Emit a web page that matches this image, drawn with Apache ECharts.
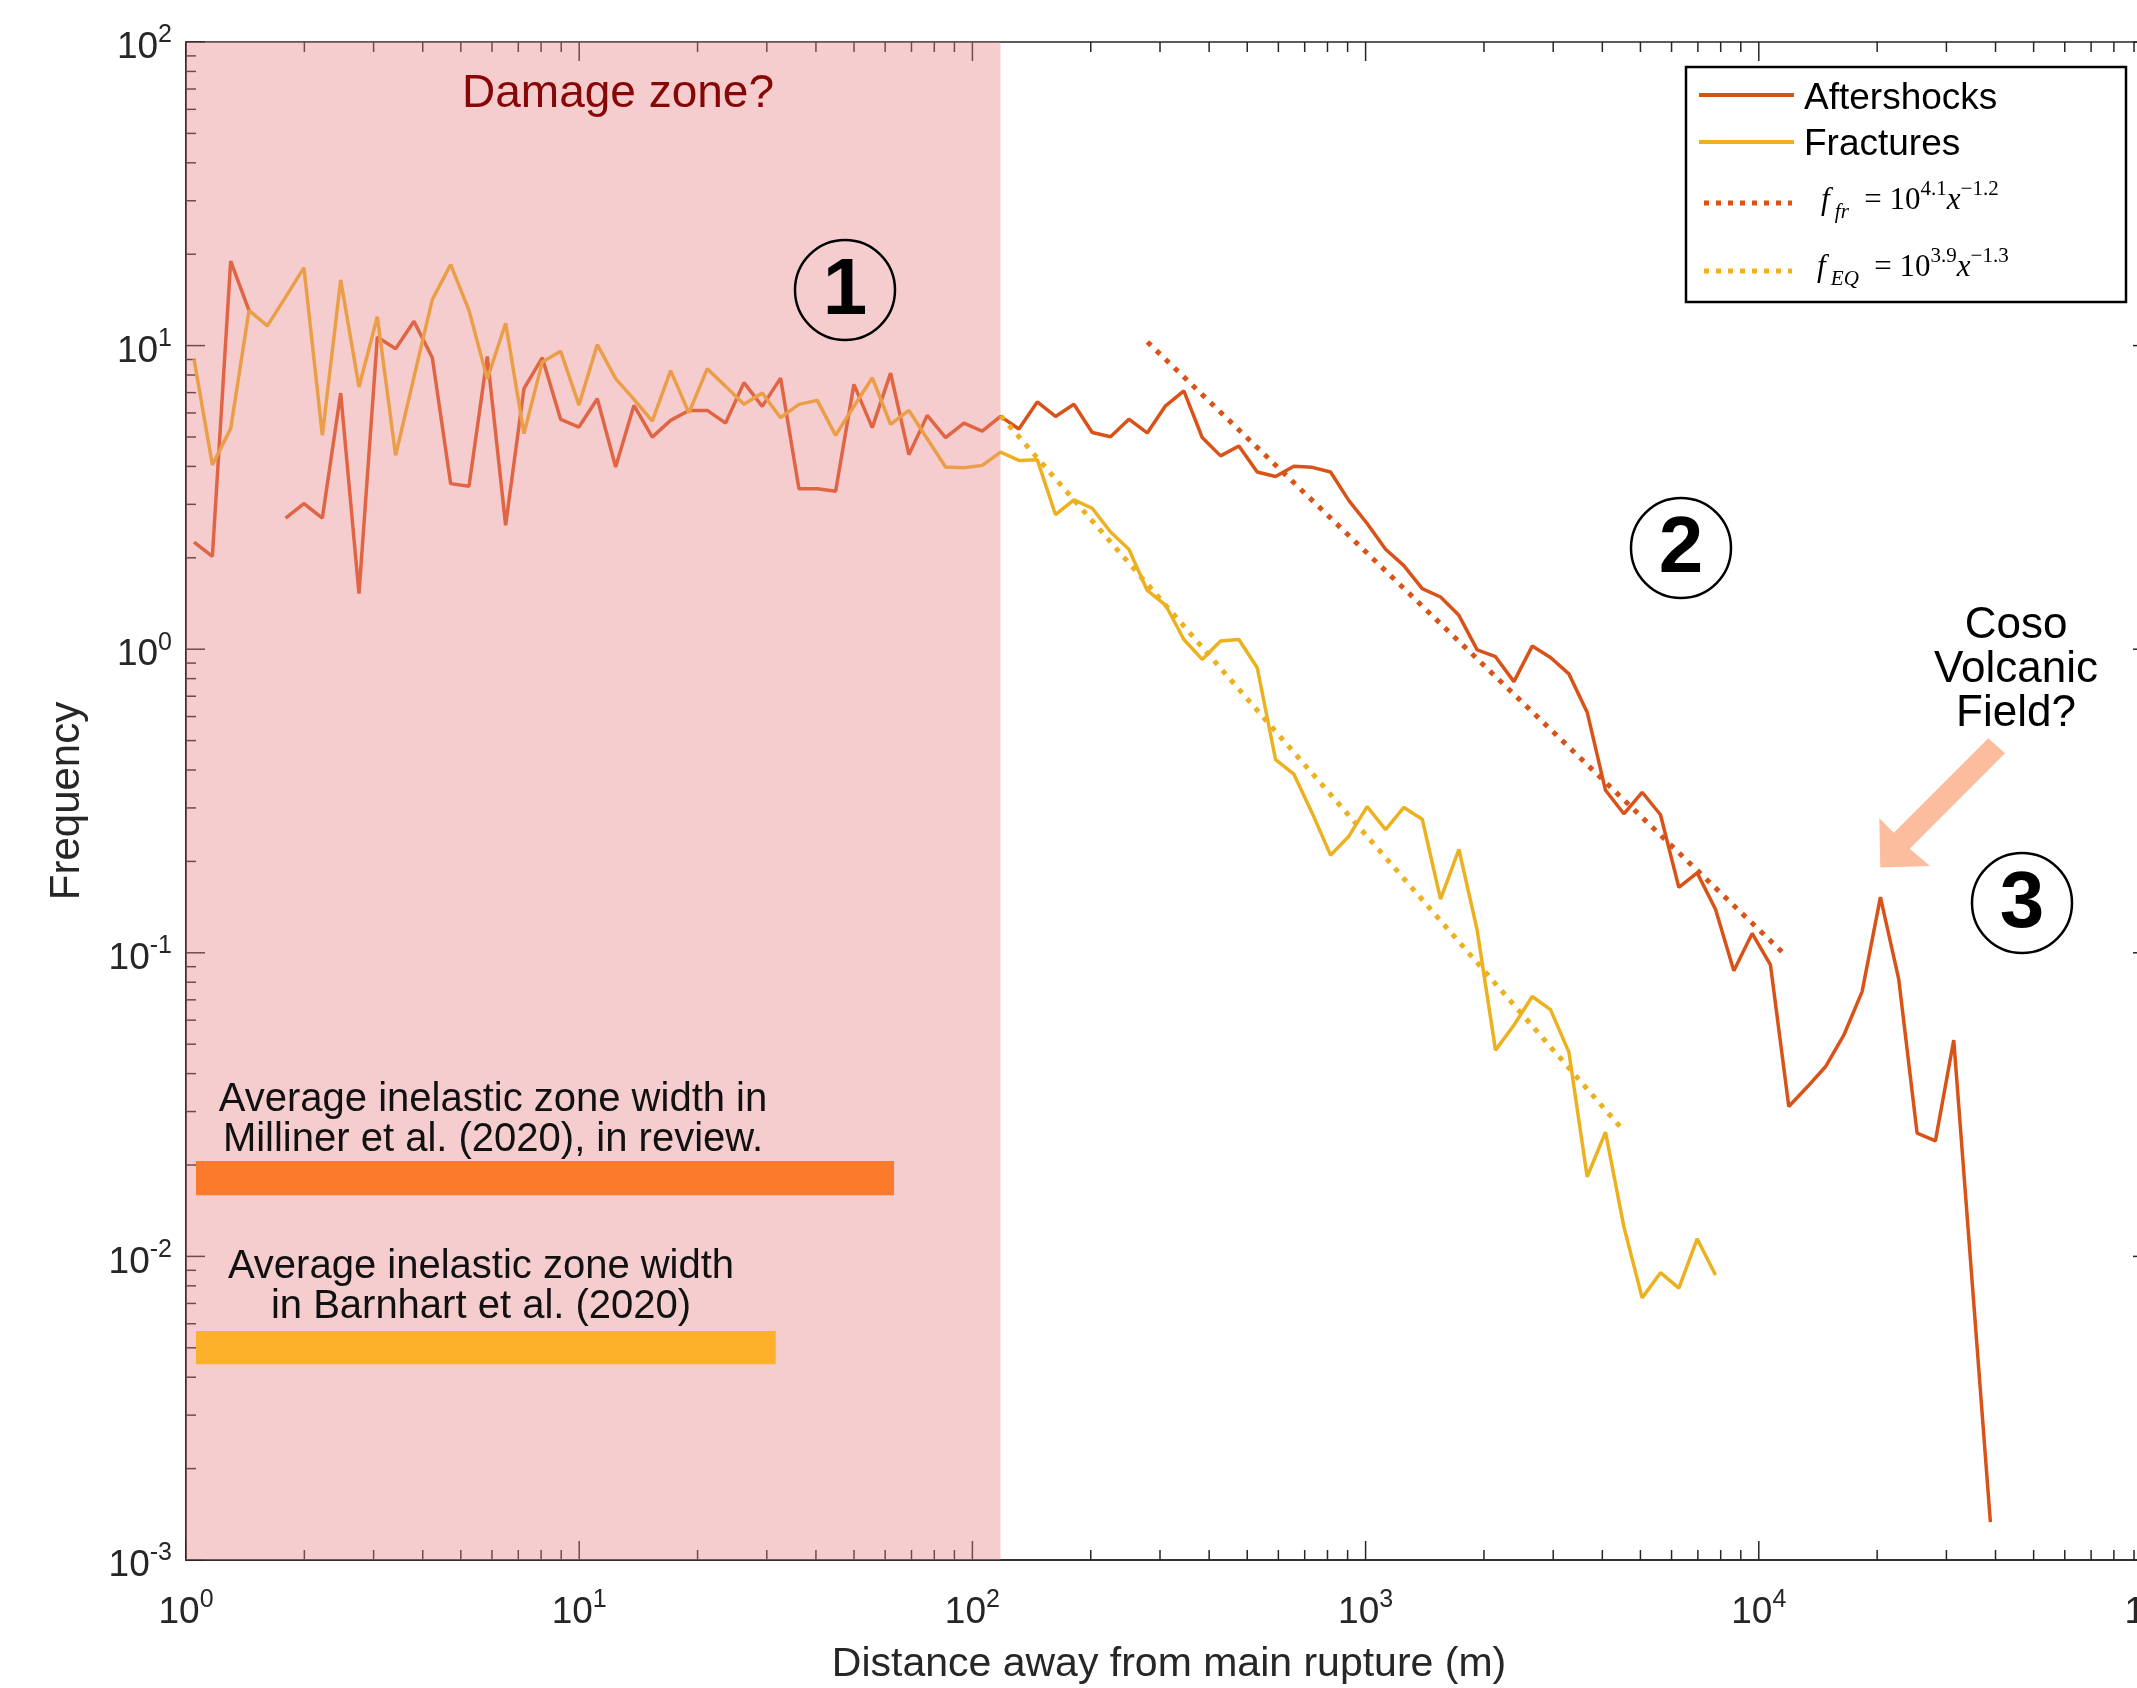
<!DOCTYPE html>
<html>
<head>
<meta charset="utf-8">
<title>Aftershocks and fractures vs. distance from main rupture</title>
<script src="https://cdn.jsdelivr.net/npm/echarts@6/dist/echarts.min.js"></script>
<style>
  html, body { margin: 0; padding: 0; background: #ffffff; }
  #chart { width: 2137px; height: 1688px; }
</style>
</head>
<body>
<div id="chart"></div>
<script>
// Distance bins (m), log-spaced bin centres shared by both histograms
const distance = [1.048, 1.167, 1.299, 1.446, 1.610, 1.792, 1.995, 2.222, 2.474, 2.754,
  3.066, 3.413, 3.800, 4.231, 4.710, 5.244, 5.838, 6.500, 7.236, 8.056,
  8.969, 9.986, 11.12, 12.38, 13.78, 15.34, 17.08, 19.01, 21.17, 23.57,
  26.24, 29.21, 32.52, 36.21, 40.31, 44.88, 49.96, 55.63, 61.93, 68.95,
  76.76, 85.46, 95.15, 105.9, 117.9, 131.3, 146.2, 162.7, 181.2, 201.7,
  224.6, 250.0, 278.4, 309.9, 345.0, 384.1, 427.7, 476.1, 530.1, 590.2,
  657.1, 731.6, 814.5, 906.8, 1009, 1124, 1251, 1393, 1551, 1727,
  1922, 2140, 2383, 2653, 2953, 3288, 3660, 4075, 4537, 5051,
  5623, 6261, 6970, 7760, 8639, 9617, 10707, 11920, 13271, 14774,
  16449, 18312, 20387, 22697, 25268, 28131, 31318, 34866, 38816];

// Aftershock frequency per bin (null = empty bin)
const aftershocks = [2.254, 2.022, 18.98, 13.06, null, 2.704, 3.016, 2.704, 6.977, 1.524,
  10.67, 9.768, 12.02, 9.125, 3.511, 3.440, 9.213, 2.559, 7.214, 9.125,
  5.715, 5.391, 6.685, 3.981, 6.355, 4.996, 5.672, 6.116, 6.116, 5.556,
  7.551, 6.307, 7.816, 3.379, 3.379, 3.311, 7.452, 5.366, 8.119, 4.373,
  5.891, 4.973, 5.556, 5.231, 5.846, 5.310, 6.521, 5.842, 6.408, 5.171,
  5.007, 5.724, 5.155, 6.336, 7.094, 4.981, 4.333, 4.671, 3.836, 3.704,
  4.008, 3.972, 3.836, 3.085, 2.594, 2.135, 1.885, 1.583, 1.486, 1.293,
  0.9954, 0.9447, 0.7822, 1.024, 0.9391, 0.8293, 0.6204, 0.3430, 0.2870, 0.3379,
  0.2849, 0.1642, 0.1833, 0.1392, 0.0873, 0.1158, 0.0912, 0.03118, 0.03612, 0.04213,
  0.05352, 0.0745, 0.1526, 0.08169, 0.02547, 0.02402, 0.0516, 0.008303, 0.001332];

// Fracture frequency per bin (first 84 bins)
const fractures = [9.020, 4.048, 5.326, 13.06, 11.61, 14.44, 18.06, 5.061, 16.46, 7.302,
  12.45, 4.350, 7.876, 14.19, 18.48, 13.06, 7.762, 11.85, 5.130, 8.825,
  9.585, 6.370, 10.08, 7.780, 6.650, 5.638, 8.270, 6.002, 8.395, 7.340,
  6.404, 6.977, 5.789, 6.404, 6.600, 5.061, 6.307, 7.840, 5.503, 6.116,
  4.936, 3.981, 3.963, 4.032, 4.460, 4.185, 4.210, 2.773, 3.103, 2.912,
  2.432, 2.135, 1.561, 1.398, 1.076, 0.9256, 1.064, 1.076, 0.8687, 0.4331,
  0.3877, 0.2884, 0.2097, 0.2422, 0.3030, 0.2545, 0.3012, 0.2754, 0.1502, 0.2189,
  0.1187, 0.0478, 0.0577, 0.0718, 0.0650, 0.0471, 0.0183, 0.02566, 0.01253, 0.007301,
  0.008839, 0.007862, 0.01143, 0.00868];

// Power-law fits, drawn between their end points [distance, frequency]
const fitFr = [[278.7, 10.28], [11756, 0.0975]];
const fitEq = [[118, 5.87], [4539, 0.02586]];

// Shaded damage zone extent (m)
const damageZone = [1, 117.9];

// Average inelastic zone width bars: [x start, y low, x end, y high]
const millinerBar = [1.06, 0.0159, 63.2, 0.0206];
const barnhartBar = [1.06, 0.00441, 31.6, 0.00568];

// Axis decades
const xDecades = [1, 10, 100, 1000, 10000, 100000];
const yDecades = [0.001, 0.01, 0.1, 1, 10, 100];

const X_MIN = 1, X_MAX = 100000, Y_MIN = 0.001, Y_MAX = 100;
const AFTER = '#D95319', FRACT = '#EDB120', AXIS = '#262626';
const SANS = '"Liberation Sans", Arial, Helvetica, sans-serif';
const SERIF = '"Liberation Serif", "Times New Roman", serif';

const pairs = (xs, ys) => ys.map((y, i) => [xs[i], y === null ? '-' : y]);

function minorTicks(decades) {
  const out = [];
  for (let d = 0; d < decades.length - 1; d++) {
    for (let k = 2; k <= 9; k++) out.push(decades[d] * k);
  }
  return out;
}
const xTickData = xDecades.map(v => [v, 1, 19]).concat(minorTicks(xDecades).map(v => [v, 1, 10]));
const yTickData = yDecades.map(v => [1, v, 19]).concat(minorTicks(yDecades).map(v => [1, v, 10]));

const expLabel = v => '{b|10}{s|' + Math.round(Math.log10(v)) + '}';
const labelRich = {
  b: { fontSize: 37, lineHeight: 50, fontFamily: SANS, color: AXIS },
  s: { fontSize: 25, lineHeight: 25, verticalAlign: 'top', fontFamily: SANS, color: AXIS }
};

const chart = echarts.init(document.getElementById('chart'), null, { renderer: 'canvas' });

const option = {
  backgroundColor: '#ffffff',
  animation: false,
  grid: {
    left: 186, top: 42, width: 1966, height: 1518,
    show: true, borderColor: AXIS, borderWidth: 1.5, backgroundColor: 'transparent',
    containLabel: false, outerBoundsMode: 'none'
  },
  xAxis: {
    type: 'log', logBase: 10, min: X_MIN, max: X_MAX,
    name: 'Distance away from main rupture (m)',
    nameLocation: 'middle', nameGap: 84,
    nameTextStyle: { fontSize: 41, fontFamily: SANS, color: AXIS },
    axisLine: { show: true, onZero: false, lineStyle: { color: AXIS, width: 1.5 } },
    axisTick: { show: false }, splitLine: { show: false }, minorTick: { show: false },
    axisLabel: { margin: 28, formatter: expLabel, rich: labelRich, hideOverlap: false }
  },
  yAxis: {
    type: 'log', logBase: 10, min: Y_MIN, max: Y_MAX,
    name: 'Frequency', nameLocation: 'middle', nameGap: 98, nameRotate: 90,
    nameTextStyle: { fontSize: 42, fontFamily: SANS, color: AXIS },
    axisLine: { show: true, onZero: false, lineStyle: { color: AXIS, width: 1.5 } },
    axisTick: { show: false }, splitLine: { show: false }, minorTick: { show: false },
    axisLabel: { margin: 14, padding: [12, 0, 0, 0], formatter: expLabel, rich: labelRich, hideOverlap: false }
  },
  series: [
    {
      name: 'Aftershocks', type: 'line', z: 2, showSymbol: false, connectNulls: false,
      data: pairs(distance, aftershocks),
      lineStyle: { color: AFTER, width: 3.5 }, itemStyle: { color: AFTER }
    },
    {
      name: 'Fractures', type: 'line', z: 2, showSymbol: false,
      data: pairs(distance, fractures),
      lineStyle: { color: FRACT, width: 3.5 }, itemStyle: { color: FRACT }
    },
    {
      name: 'f_fr fit', type: 'line', z: 3, showSymbol: false, data: fitFr,
      lineStyle: { color: AFTER, width: 5, type: [5, 7.5], cap: 'butt' }
    },
    {
      name: 'f_EQ fit', type: 'line', z: 3, showSymbol: false, data: fitEq,
      lineStyle: { color: FRACT, width: 5, type: [5, 7.5], cap: 'butt' }
    },
    {
      // tick marks on bottom and top edges
      name: 'x ticks', type: 'custom', z: 1, silent: true,
      data: xTickData, encode: { x: 0, y: 1 },
      renderItem: (params, api) => {
        const v = api.value(0), len = api.value(2);
        const b = api.coord([v, Y_MIN]), t = api.coord([v, Y_MAX]);
        const st = { stroke: AXIS, lineWidth: 1.5 };
        return { type: 'group', children: [
          { type: 'line', shape: { x1: b[0], y1: b[1], x2: b[0], y2: b[1] - len }, style: st },
          { type: 'line', shape: { x1: t[0], y1: t[1], x2: t[0], y2: t[1] + len }, style: st }
        ] };
      }
    },
    {
      // tick marks on left and right edges
      name: 'y ticks', type: 'custom', z: 1, silent: true,
      data: yTickData, encode: { x: 0, y: 1 },
      renderItem: (params, api) => {
        const v = api.value(1), len = api.value(2);
        const l = api.coord([X_MIN, v]), r = api.coord([X_MAX, v]);
        const st = { stroke: AXIS, lineWidth: 1.5 };
        return { type: 'group', children: [
          { type: 'line', shape: { x1: l[0], y1: l[1], x2: l[0] + len, y2: l[1] }, style: st },
          { type: 'line', shape: { x1: r[0], y1: r[1], x2: r[0] - len, y2: r[1] }, style: st }
        ] };
      }
    },
    {
      // translucent shading of the near-fault damage zone
      name: 'Damage zone', type: 'custom', z: 5, silent: true,
      data: [[damageZone[0], Y_MIN, damageZone[1], Y_MAX]],
      encode: { x: [0, 2], y: [1, 3] },
      renderItem: (params, api) => {
        const a = api.coord([api.value(0), api.value(3)]);
        const b = api.coord([api.value(2), api.value(1)]);
        return { type: 'rect', shape: { x: a[0], y: a[1], width: b[0] - a[0], height: b[1] - a[1] },
          style: { fill: 'rgba(232,130,132,0.4)' } };
      }
    },
    {
      name: 'Inelastic zone widths', type: 'custom', z: 7, silent: true,
      data: [millinerBar, barnhartBar],
      encode: { x: [0, 2], y: [1, 3] },
      renderItem: (params, api) => {
        const colors = ['#FC7A2B', '#FDB12A'];
        const a = api.coord([api.value(0), api.value(3)]);
        const b = api.coord([api.value(2), api.value(1)]);
        return { type: 'rect', shape: { x: a[0], y: a[1], width: b[0] - a[0], height: b[1] - a[1] },
          style: { fill: colors[params.dataIndex] } };
      }
    }
  ],
  graphic: [
    // annotations
    { type: 'text', z: 20, x: 618, y: 94,
      style: { text: 'Damage zone?', font: '46px ' + SANS, fill: '#870707',
        textAlign: 'center', textVerticalAlign: 'middle', align: 'center', verticalAlign: 'middle' } },
    { type: 'text', z: 20, x: 493, y: 1120,
      style: { text: 'Average inelastic zone width in\nMilliner et al. (2020), in review.',
        font: '40px ' + SANS, lineHeight: 40, fill: '#111111',
        textAlign: 'center', textVerticalAlign: 'middle', align: 'center', verticalAlign: 'middle' } },
    { type: 'text', z: 20, x: 481, y: 1287,
      style: { text: 'Average inelastic zone width\nin Barnhart et al. (2020)',
        font: '40px ' + SANS, lineHeight: 40, fill: '#111111',
        textAlign: 'center', textVerticalAlign: 'middle', align: 'center', verticalAlign: 'middle' } },
    { type: 'text', z: 20, x: 2016, y: 670,
      style: { text: 'Coso\nVolcanic\nField?', font: '44px ' + SANS, lineHeight: 44, fill: '#000000',
        textAlign: 'center', textVerticalAlign: 'middle', align: 'center', verticalAlign: 'middle' } },
    { type: 'polygon', z: 20,
      shape: { points: [[1988.3, 738.3], [1893.8, 832.8], [1879.3, 818.3], [1880.3, 867.5],
        [1930, 866], [1909.7, 848.7], [2005, 753.3]] },
      style: { fill: '#FCBC9E' } },
    // numbered regions
    { type: 'circle', z: 20, shape: { cx: 845, cy: 290, r: 50 }, style: { fill: null, stroke: '#000', lineWidth: 2.5 } },
    { type: 'text', z: 20, x: 845, y: 292,
      style: { text: '1', font: 'bold 80px ' + SANS, fill: '#000',
        textAlign: 'center', textVerticalAlign: 'middle', align: 'center', verticalAlign: 'middle' } },
    { type: 'circle', z: 20, shape: { cx: 1681, cy: 548, r: 50 }, style: { fill: null, stroke: '#000', lineWidth: 2.5 } },
    { type: 'text', z: 20, x: 1681, y: 550,
      style: { text: '2', font: 'bold 80px ' + SANS, fill: '#000',
        textAlign: 'center', textVerticalAlign: 'middle', align: 'center', verticalAlign: 'middle' } },
    { type: 'circle', z: 20, shape: { cx: 2022, cy: 903, r: 50 }, style: { fill: null, stroke: '#000', lineWidth: 2.5 } },
    { type: 'text', z: 20, x: 2022, y: 905,
      style: { text: '3', font: 'bold 80px ' + SANS, fill: '#000',
        textAlign: 'center', textVerticalAlign: 'middle', align: 'center', verticalAlign: 'middle' } },
    // legend box
    { type: 'rect', z: 30, shape: { x: 1686, y: 67, width: 440, height: 235 },
      style: { fill: '#ffffff', stroke: '#000000', lineWidth: 2.5 } },
    { type: 'line', z: 31, shape: { x1: 1699, y1: 95, x2: 1794, y2: 95 }, style: { stroke: AFTER, lineWidth: 4 } },
    { type: 'text', z: 31, x: 1804, y: 99,
      style: { text: 'Aftershocks', font: '37px ' + SANS, fill: '#000',
        textAlign: 'left', textVerticalAlign: 'middle', align: 'left', verticalAlign: 'middle' } },
    { type: 'line', z: 31, shape: { x1: 1699, y1: 142, x2: 1794, y2: 142 }, style: { stroke: FRACT, lineWidth: 4 } },
    { type: 'text', z: 31, x: 1804, y: 145,
      style: { text: 'Fractures', font: '37px ' + SANS, fill: '#000',
        textAlign: 'left', textVerticalAlign: 'middle', align: 'left', verticalAlign: 'middle' } },
    { type: 'line', z: 31, shape: { x1: 1704, y1: 203, x2: 1792, y2: 203 },
      style: { stroke: AFTER, lineWidth: 5, lineDash: [5, 7], lineCap: 'butt' } },
    { type: 'text', z: 31, x: 1821, y: 201,
      style: { text: '{i|f}{sub| fr}{n|  = 10}{sup|4.1}{i|x}{sup|−1.2}',
        textAlign: 'left', textVerticalAlign: 'middle', align: 'left', verticalAlign: 'middle',
        rich: {
          i: { fontSize: 31, lineHeight: 44, fontStyle: 'italic', fontFamily: SERIF, color: '#000' },
          n: { fontSize: 31, lineHeight: 44, fontFamily: SERIF, color: '#000' },
          sub: { fontSize: 21, lineHeight: 21, fontStyle: 'italic', verticalAlign: 'bottom', fontFamily: SERIF, color: '#000' },
          sup: { fontSize: 21, lineHeight: 21, verticalAlign: 'top', fontFamily: SERIF, color: '#000' }
        } } },
    { type: 'line', z: 31, shape: { x1: 1704, y1: 271, x2: 1792, y2: 271 },
      style: { stroke: FRACT, lineWidth: 5, lineDash: [5, 7], lineCap: 'butt' } },
    { type: 'text', z: 31, x: 1817, y: 268,
      style: { text: '{i|f}{sub| EQ}{n|  = 10}{sup|3.9}{i|x}{sup|−1.3}',
        textAlign: 'left', textVerticalAlign: 'middle', align: 'left', verticalAlign: 'middle',
        rich: {
          i: { fontSize: 31, lineHeight: 44, fontStyle: 'italic', fontFamily: SERIF, color: '#000' },
          n: { fontSize: 31, lineHeight: 44, fontFamily: SERIF, color: '#000' },
          sub: { fontSize: 21, lineHeight: 21, fontStyle: 'italic', verticalAlign: 'bottom', fontFamily: SERIF, color: '#000' },
          sup: { fontSize: 21, lineHeight: 21, verticalAlign: 'top', fontFamily: SERIF, color: '#000' }
        } } }
  ]
};

chart.setOption(option);
</script>
</body>
</html>
